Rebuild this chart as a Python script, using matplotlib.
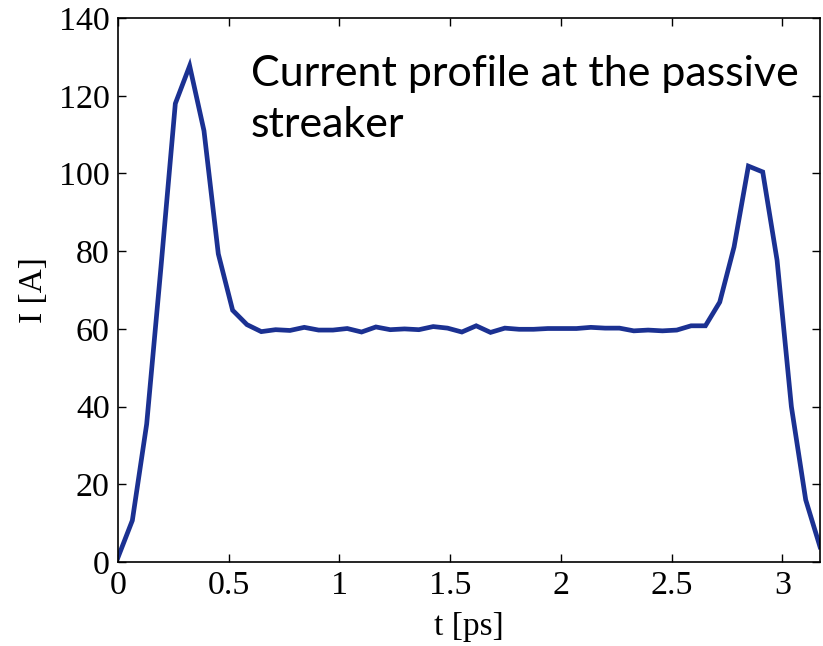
import matplotlib.pyplot as plt
import numpy as np

# current profile sampled on a uniform time grid
t_start, t_end, n_samples = 0.0, 3.17, 50
current = [1.2, 10.7, 35.5, 76.0, 118.0, 127.7, 111.0, 79.3, 64.8, 61.1,
           59.3, 59.8, 59.6, 60.4, 59.7, 59.7, 60.1, 59.2, 60.5, 59.8,
           60.0, 59.8, 60.6, 60.2, 59.2, 60.8, 59.1, 60.2, 59.9, 59.9,
           60.1, 60.1, 60.1, 60.4, 60.2, 60.2, 59.5, 59.7, 59.5, 59.7,
           60.8, 60.8, 66.9, 81.1, 101.9, 100.4, 77.7, 40.0, 16.0, 3.9]
t = np.linspace(t_start, t_end, n_samples)

xticks = [0, 0.5, 1, 1.5, 2, 2.5, 3]
xticklabels = ['0', '0.5', '1', '1.5', '2', '2.5', '3']
yticks = [0, 20, 40, 60, 80, 100, 120, 140]

fig = plt.figure(figsize=(8.23, 6.46), dpi=100)
ax = fig.add_axes([0.1434, 0.130, 0.8530, 0.842])

ax.plot(t, current, color='#1b3192', linewidth=3.4, solid_joinstyle='miter')

ax.set_xlim(t_start, t_end)
ax.set_ylim(0, 140)
ax.set_xticks(xticks, xticklabels)
ax.set_yticks(yticks)

serif = ['Liberation Serif', 'DejaVu Serif']
for lab in ax.get_xticklabels() + ax.get_yticklabels():
    lab.set_family(serif)
    lab.set_fontsize(24.5)
ax.tick_params(direction='in', length=6, width=1, top=True, right=True,
               pad=6)
for s in ax.spines.values():
    s.set_linewidth(1.2)

ax.set_xlabel('t [ps]', family=serif, fontsize=24, labelpad=8)
ax.set_ylabel('I [A]', family=serif, fontsize=24, labelpad=7)

ax.text(0.189, 0.85, 'Current profile at the passive\nstreaker',
        transform=ax.transAxes, family='Lato', fontsize=31,
        ha='left', va='center', linespacing=1.42)

fig.savefig('out.png', dpi=100)
